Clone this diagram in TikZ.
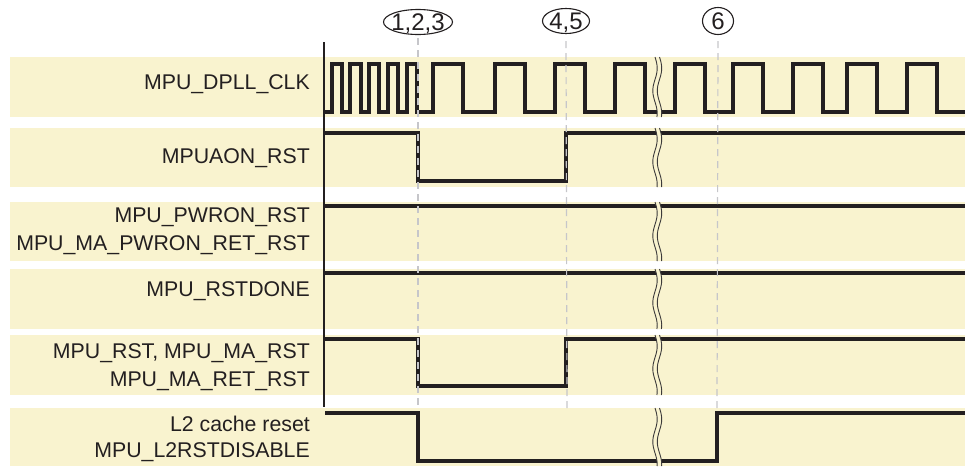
\documentclass[tikz,border=0pt]{standalone}
\usepackage{fontspec}
\setmainfont{Liberation Sans}
\usetikzlibrary{shapes.geometric}
\definecolor{bandcol}{RGB}{249,243,207}
\definecolor{sigcol}{RGB}{35,31,32}
\definecolor{guidecol}{RGB}{198,198,202}
\definecolor{breakcol}{RGB}{60,58,58}
\begin{document}
\begin{tikzpicture}[x=1pt,y=-1pt,
  signal/.style={draw=sigcol, line width=3.3pt},
  guideline/.style={draw=guidecol, line width=1.2pt, dash pattern=on 7pt off 5pt},
  lbl/.style={font=\fontsize{21.3}{25}\selectfont, anchor=base east, inner sep=0pt, text=sigcol},
  markerbox/.style={ellipse, draw=sigcol, line width=1.1pt, inner sep=0pt},
  markertext/.style={font=\fontsize{24}{28}\selectfont, text=sigcol, inner sep=0pt, anchor=base}]
\useasboundingbox (0,0) rectangle (965,466);
% bands
\foreach \t/\b in {57/117,128/187,202/261,269/329,335/395,408/466}
  \fill[bandcol] (10,\t) rectangle (965,\b);
% markers
\node[markerbox, minimum width=69pt, minimum height=25pt] (m123) at (418,22) {};
\node[markertext] (t123) at ([yshift=-8.6pt]m123.center) {1,2,3};
\node[markerbox, minimum width=47pt, minimum height=25pt] (m45) at (566,21) {};
\node[markertext] (t45) at ([yshift=-8.6pt]m45.center) {4,5};
\node[markerbox, minimum width=31pt, minimum height=27pt] (m6) at (718,21) {};
\node[markertext] (t6) at ([yshift=-8.6pt]m6.center) {6};
% axis
\draw[sigcol, line width=1.5pt] (324,42) -- (324,407);
% clock
\draw[signal] (325,112) -| (332,64) -| (342,112) -| (350,64) -| (361,112)
  -| (369,64) -| (379,112) -| (388,64) -| (398,112) -| (407,64) -| (417,112)
  -| (433,64) -| (463,112) -| (495,64) -| (525,112) -| (555,64) -| (585,112)
  -| (615,64) -| (645,112) -| (675,64) -| (705,112) -| (733,64) -| (763,112)
  -| (793,64) -| (823,112) -| (847,64) -| (877,112) -| (907,64) -| (937,112)
  -- (965,112);
% MPUAON_RST
\draw[signal] (325,133) -| (418,181) -| (566,133) -- (965,133);
% MPU_PWRON_RST
\draw[signal] (325,206) -- (965,206);
% MPU_RSTDONE
\draw[signal] (325,273) -- (965,273);
% MPU_RST
\draw[signal] (325,339) -| (418,386) -| (566,339) -- (965,339);
% L2
\draw[signal] (325,413) -| (418,461) -| (717,413) -- (965,413);
% guides
\draw[guideline] (m123.south) ++(0,3) -- (418,408);
\draw[guideline] (m45.south) ++(0,7) -- (567,410);
\draw[guideline] (m6.south) ++(0,6) -- (717,408);
% breaks
\foreach \t/\b in {57/117,128/187,202/261,269/329,335/395,408/466}{
  \fill[bandcol] plot[domain=\t:\b, samples=30] ({655+2.2*sin((\x-\t)*8)}, \x)
     -- plot[domain=\b:\t, samples=30] ({659.5+2.2*sin((\x-\t)*8)}, \x) -- cycle;
  \draw[breakcol, line width=0.9pt] plot[domain=\t:\b, samples=30] ({655+2.2*sin((\x-\t)*8)}, \x);
  \draw[breakcol, line width=0.9pt] plot[domain=\t:\b, samples=30] ({659.5+2.2*sin((\x-\t)*8)}, \x);
}
% labels
\node[lbl] (l1) at (310,89.3) {MPU\_DPLL\_CLK};
\node[lbl] (l2) at (310,163) {MPUAON\_RST};
\node[lbl] (l3a) at (310,222.7) {MPU\_PWRON\_RST};
\node[lbl] (l3b) at (310,250) {MPU\_MA\_PWRON\_RET\_RST};
\node[lbl] (l4) at (310,296.7) {MPU\_RSTDONE};
\node[lbl] (l5a) at (310,358.3) {MPU\_RST, MPU\_MA\_RST};
\node[lbl] (l5b) at (310,386.7) {MPU\_MA\_RET\_RST};
\node[lbl] (l6a) at (310,431.7) {L2 cache reset};
\node[lbl] (l6b) at (310,457) {MPU\_L2RSTDISABLE};
\end{tikzpicture}
\end{document}
